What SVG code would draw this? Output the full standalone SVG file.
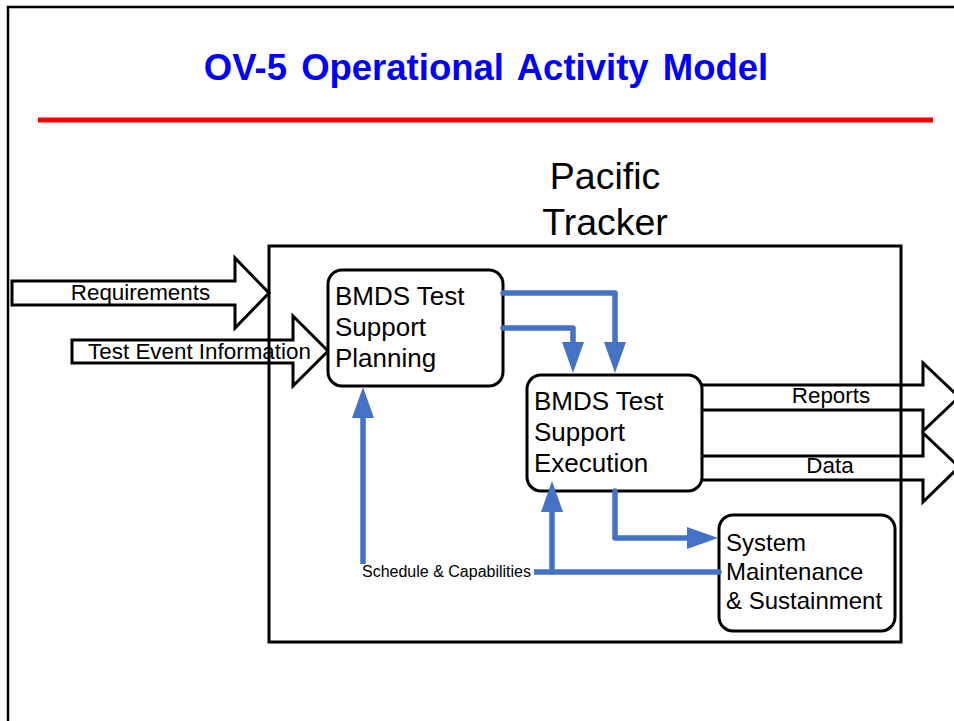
<svg xmlns="http://www.w3.org/2000/svg" width="954" height="721" viewBox="0 0 954 721">
<style>
text{font-family:"Liberation Sans",Arial,sans-serif;fill:#000}
.title{font-size:36.5px;font-weight:bold;fill:#0000FF;word-spacing:4px}
.sys{font-size:37.5px}
.box{fill:#fff;stroke:#000;stroke-width:3}
.blk{fill:none;stroke:#000;stroke-width:3;stroke-linejoin:miter}
.flow{fill:none;stroke:#4472C4;stroke-width:5.5;stroke-linejoin:round;stroke-linecap:round}
.lbl{font-size:22.4px}
.node{font-size:26px}
.node2{font-size:24px}
.small{font-size:16px}
</style>
<defs>
<marker id="ah" markerUnits="userSpaceOnUse" markerWidth="31" markerHeight="22" viewBox="0 -11 31 22" refX="0" refY="0" orient="auto">
<path d="M0,-11 L31,0 L0,11 z" fill="#4472C4"/>
</marker>
</defs>
<rect width="954" height="721" fill="#fff"/>
<path d="M8,721 V7 H954" fill="none" stroke="#000" stroke-width="2.5"/>
<text class="title" x="486" y="80" text-anchor="middle">OV-5 Operational Activity Model</text>
<line x1="38" y1="120" x2="933" y2="120" stroke="#FF0000" stroke-width="5"/>
<g id="pacific-tracker">
<rect x="269" y="246" width="632" height="396" fill="none" stroke="#000" stroke-width="3"/>
<text class="sys" x="605" y="189" text-anchor="middle">Pacific</text>
<text class="sys" x="605" y="235" text-anchor="middle">Tracker</text>
</g>
<g id="external-flows">
<path class="blk" d="M12,281 H235 V258 L269,293 L235,328 V305 H12 Z"/>
<text class="lbl" x="140.5" y="300" text-anchor="middle">Requirements</text>
<path class="blk" d="M72,340 H293 V316 L328,351 L293,386 V363 H72 Z"/>
<text class="lbl" x="199.5" y="359" text-anchor="middle">Test Event Information</text>
<path class="blk" d="M702,385 H923 V363 L959,397 L923,431 V410 H702"/>
<text class="lbl" x="831" y="403" text-anchor="middle">Reports</text>
<path class="blk" d="M702,456 H923 V433 L959,467 L923,502 V480 H702"/>
<text class="lbl" x="830" y="473" text-anchor="middle">Data</text>
</g>
<g id="planning">
<rect class="box" x="328" y="270" width="175" height="116" rx="14"/>
<text class="node" x="335" y="305">BMDS Test</text>
<text class="node" x="335" y="336">Support</text>
<text class="node" x="335" y="367">Planning</text>
</g>
<g id="execution">
<rect class="box" x="527" y="375" width="175" height="116" rx="14"/>
<text class="node" x="534" y="410">BMDS Test</text>
<text class="node" x="534" y="441">Support</text>
<text class="node" x="534" y="472">Execution</text>
</g>
<g id="sustainment">
<rect class="box" x="719" y="515" width="176" height="116" rx="14"/>
<text class="node2" x="726" y="551">System</text>
<text class="node2" x="726" y="580">Maintenance</text>
<text class="node2" x="726" y="609">&amp; Sustainment</text>
</g>
<g id="connectors">
<path class="flow" d="M503,293 H615 V342" marker-end="url(#ah)"/>
<path class="flow" d="M503,328 H573 V342" marker-end="url(#ah)"/>
<path class="flow" d="M615,491 V538 H687" marker-end="url(#ah)"/>
<path class="flow" d="M719,572 H363 V418" marker-end="url(#ah)"/>
<path class="flow" d="M552,572 V512" marker-end="url(#ah)"/>
<rect x="360" y="564" width="174" height="17" fill="#fff"/>
<text class="small" x="362" y="577">Schedule &amp; Capabilities</text>
</g>
</svg>
